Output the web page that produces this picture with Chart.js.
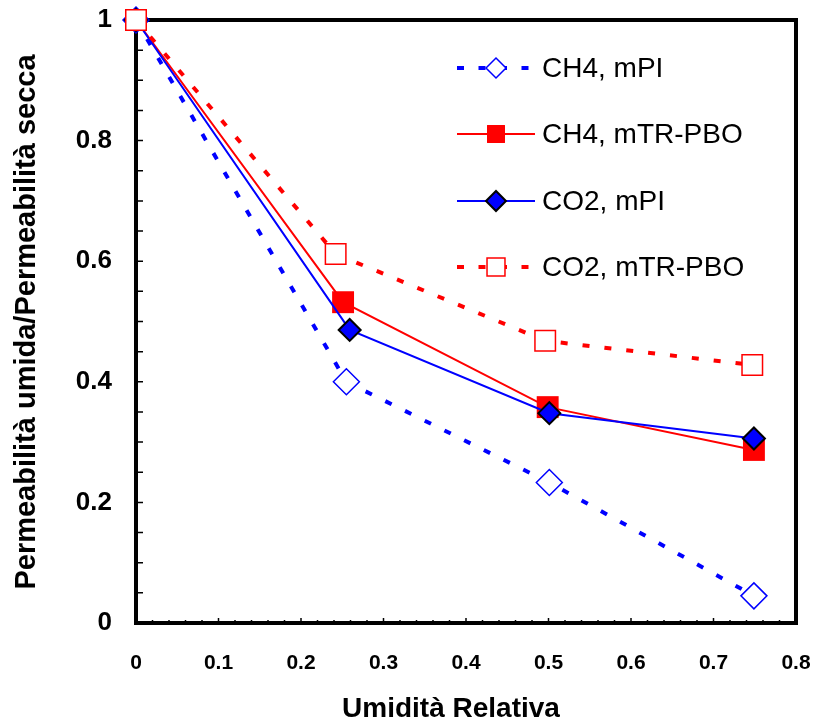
<!DOCTYPE html>
<html>
<head>
<meta charset="utf-8">
<script src="https://cdn.jsdelivr.net/npm/chart.js@4.4.1/dist/chart.umd.min.js"></script>
<style>
  html, body { margin: 0; padding: 0; background: #fff; }
</style>
</head>
<body>
<canvas id="permeabilita" width="813" height="725"></canvas>
<script>
// Permeabilità umida / secca in funzione dell'umidità relativa
const nomiSerie = ['CH4, mPI', 'CH4, mTR-PBO', 'CO2, mPI', 'CO2, mTR-PBO'];

const umiditaCH4mPI = [0, 0.255, 0.501, 0.749];
const permCH4mPI = [1, 0.400, 0.233, 0.045];

const umiditaCH4PBO = [0, 0.251, 0.499, 0.749];
const permCH4PBO = [1, 0.532, 0.358, 0.287];

const umiditaCO2mPI = [0, 0.259, 0.501, 0.749];
const permCO2mPI = [1, 0.486, 0.348, 0.306];

const umiditaCO2PBO = [0, 0.242, 0.496, 0.747];
const permCO2PBO = [1, 0.612, 0.468, 0.428];

const tickX = [0, 0.1, 0.2, 0.3, 0.4, 0.5, 0.6, 0.7, 0.8];
const tickY = [0, 0.2, 0.4, 0.6, 0.8, 1];

const titoloX = 'Umidità Relativa';
const titoloY = 'Permeabilità umida/Permeabilità secca';

const BLU = '#0000FF';
const ROSSO = '#FF0000';
const FONT = 'Liberation Sans, Arial, sans-serif';

function punti(xs, ys) {
  return xs.map((x, i) => ({ x: x, y: ys[i] }));
}

// stile dei campioni in legenda (linea + marcatore)
const campioni = [
  { linea: BLU, spessore: 4, tratteggio: [7, 14.5], stile: 'rectRot', raggio: 10, riempi: '#fff', bordo: BLU, bordoW: 1.5 },
  { linea: ROSSO, spessore: 2, tratteggio: [], stile: 'rect', raggio: 12.7, riempi: ROSSO, bordo: ROSSO, bordoW: 0 },
  { linea: BLU, spessore: 2, tratteggio: [], stile: 'rectRot', raggio: 10, riempi: BLU, bordo: '#000', bordoW: 2 },
  { linea: ROSSO, spessore: 4, tratteggio: [7, 14.5], stile: 'rect', raggio: 12.7, riempi: '#fff', bordo: ROSSO, bordoW: 1.5 }
];

// cornice spessa e tacche interne
const cornice = {
  id: 'cornice',
  beforeDatasetsDraw(chart) {
    const { ctx, chartArea: a, scales: { x, y } } = chart;
    ctx.save();
    ctx.strokeStyle = '#000';
    ctx.lineWidth = 1.5;
    ctx.beginPath();
    for (let i = 0; i <= 40; i++) {
      const px = x.getPixelForValue(i * 0.02);
      const len = i % 5 === 0 ? 5 : 3;
      ctx.moveTo(px, a.bottom);
      ctx.lineTo(px, a.bottom - len);
    }
    for (let i = 0; i <= 20; i++) {
      const py = y.getPixelForValue(i * 0.05);
      ctx.moveTo(a.left, py);
      ctx.lineTo(a.left + 7, py);
    }
    ctx.stroke();
    ctx.lineWidth = 4;
    ctx.strokeRect(a.left, a.top, a.right - a.left, a.bottom - a.top);
    ctx.restore();
  }
};

// legenda e titoli degli assi
const legenda = {
  id: 'legenda',
  afterDraw(chart) {
    const ctx = chart.ctx;
    const righe = [68, 134, 201, 267];
    ctx.save();
    nomiSerie.forEach((nome, i) => {
      const c = campioni[i];
      const y = righe[i];
      ctx.strokeStyle = c.linea;
      ctx.lineWidth = c.spessore;
      ctx.setLineDash(c.tratteggio);
      ctx.beginPath();
      ctx.moveTo(457, y);
      ctx.lineTo(535, y);
      ctx.stroke();
      ctx.setLineDash([]);
      ctx.fillStyle = c.riempi;
      ctx.strokeStyle = c.bordo;
      ctx.lineWidth = c.bordoW;
      Chart.helpers.drawPoint(ctx, { pointStyle: c.stile, rotation: 0, radius: c.raggio, borderWidth: c.bordoW }, 496, y);
      ctx.fillStyle = '#000';
      ctx.font = '28px ' + FONT;
      ctx.textAlign = 'left';
      ctx.textBaseline = 'middle';
      ctx.fillText(nome, 542, y + 1);
    });

    ctx.fillStyle = '#000';
    ctx.font = 'bold 28px ' + FONT;
    ctx.textAlign = 'center';
    ctx.textBaseline = 'middle';
    ctx.fillText(titoloX, 451, 709);

    ctx.font = 'bold 29px ' + FONT;
    ctx.translate(27, 322);
    ctx.rotate(-Math.PI / 2);
    ctx.fillText(titoloY, 0, 0);
    ctx.restore();
  }
};

const ctx = document.getElementById('permeabilita').getContext('2d');

new Chart(ctx, {
  type: 'line',
  data: {
    datasets: [
      {
        label: nomiSerie[0],
        data: punti(umiditaCH4mPI, permCH4mPI),
        borderColor: BLU,
        borderWidth: 4,
        borderDash: [7, 15],
        pointStyle: 'rectRot',
        pointRadius: 13,
        pointBackgroundColor: '#fff',
        pointBorderColor: BLU,
        pointBorderWidth: 1.5,
        order: 4
      },
      {
        label: nomiSerie[1],
        data: punti(umiditaCH4PBO, permCH4PBO),
        borderColor: ROSSO,
        borderWidth: 2,
        pointStyle: 'rect',
        pointRadius: 15.5,
        pointBackgroundColor: ROSSO,
        pointBorderColor: ROSSO,
        pointBorderWidth: 0,
        order: 3
      },
      {
        label: nomiSerie[2],
        data: punti(umiditaCO2mPI, permCO2mPI),
        borderColor: BLU,
        borderWidth: 2,
        pointStyle: 'rectRot',
        pointRadius: 11,
        pointBackgroundColor: BLU,
        pointBorderColor: '#000',
        pointBorderWidth: 2,
        order: 2
      },
      {
        label: nomiSerie[3],
        data: punti(umiditaCO2PBO, permCO2PBO),
        borderColor: ROSSO,
        borderWidth: 4,
        borderDash: [7, 15],
        pointStyle: 'rect',
        pointRadius: 14.5,
        pointBackgroundColor: '#fff',
        pointBorderColor: ROSSO,
        pointBorderWidth: 1.5,
        order: 1
      }
    ]
  },
  options: {
    responsive: false,
    animation: false,
    devicePixelRatio: 1,
    clip: false,
    layout: {
      padding: { top: 20, right: 17, left: 0, bottom: 0 }
    },
    elements: {
      line: { tension: 0, fill: false },
      point: { hoverRadius: 13 }
    },
    plugins: {
      legend: { display: false },
      tooltip: { enabled: false }
    },
    scales: {
      x: {
        type: 'linear',
        min: 0,
        max: 0.8,
        afterFit: s => { s.height = 102; s.paddingLeft = 0; s.paddingRight = 0; },
        afterBuildTicks: s => { s.ticks = tickX.map(v => ({ value: v })); },
        grid: { display: false, drawTicks: false },
        border: { display: false },
        ticks: {
          color: '#000',
          padding: 28,
          maxRotation: 0,
          font: { family: FONT, size: 21, weight: 'bold' },
          callback: v => String(v)
        }
      },
      y: {
        type: 'linear',
        min: 0,
        max: 1,
        afterFit: s => { s.width = 136; s.paddingTop = 0; s.paddingBottom = 0; },
        afterBuildTicks: s => { s.ticks = tickY.map(v => ({ value: v })); },
        grid: { display: false, drawTicks: false },
        border: { display: false },
        ticks: {
          color: '#000',
          padding: 24,
          font: { family: FONT, size: 26, weight: 'bold' },
          callback: v => String(v)
        }
      }
    }
  },
  plugins: [cornice, legenda]
});
</script>
</body>
</html>
